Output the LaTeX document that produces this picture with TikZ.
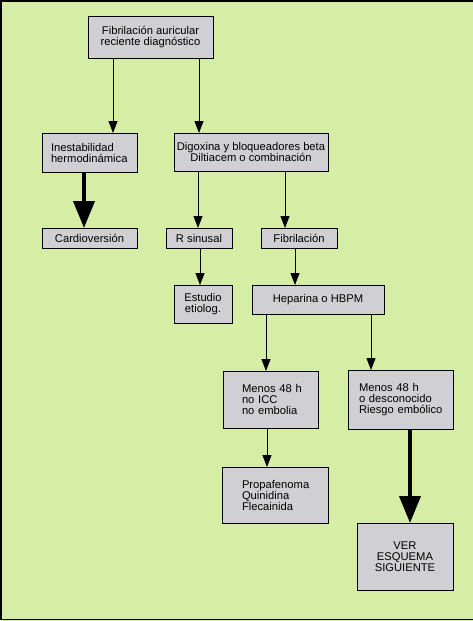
\documentclass[tikz,border=0pt]{standalone}
\usepackage{fontspec}
\setmainfont{Liberation Sans}
\usetikzlibrary{arrows.meta}
\definecolor{bggreen}{RGB}{214,237,166}
\definecolor{boxgray}{RGB}{208,208,212}
\begin{document}
\begin{tikzpicture}[x=1pt,y=-1pt,
  box/.style={draw=black, fill=boxgray, line width=0.9pt, anchor=north west,
    inner ysep=0pt, inner xsep=2pt, outer sep=0pt,
    font=\fontsize{11.2}{11}\selectfont, align=center},
  lbox/.style={box, align=left},
  arr/.style={line width=1pt, -{Triangle[width=9pt,length=12pt]}},
  bigarr/.style={line width=3.8pt, -{Triangle[width=21pt,length=27pt]}}]
\useasboundingbox (0,0) rectangle (473,621);
\fill[bggreen] (0,0) rectangle (473,621);
\draw[line width=1.5pt] (473,0.75) -- (0.75,0.75) -- (0.75,619.5) -- (473,619.5);

\node[box, minimum width=125pt, minimum height=42pt] (b1) at (88,16) {Fibrilación auricular\\reciente diagnóstico};
\node[lbox, text width=77pt, inner xsep=9pt, minimum height=39pt] (inst) at (42,133) {\mbox{Inestabilidad}\\\mbox{hermodinámica}};
\node[box, minimum width=154pt, minimum height=38pt] (dig) at (174,133) {Digoxina y bloqueadores beta\\Diltiacem o combinación};
\node[box, minimum width=95pt, minimum height=20pt] (card) at (42,228) {Cardioversión};
\node[box, minimum width=66pt, minimum height=20pt] (rsin) at (166,228) {R sinusal};
\node[box, minimum width=76pt, minimum height=20pt] (fib) at (261,228) {Fibrilación};
\node[box, minimum width=58pt, minimum height=38pt] (est) at (174,285) {Estudio\\etiolog.};
\node[box, minimum width=132pt, minimum height=29pt] (hep) at (252,285) {Heparina o HBPM};
\node[lbox, text width=57pt, inner xsep=19pt, minimum height=57pt] (m1) at (223,371) {\mbox{Menos 48 h}\\\mbox{no ICC}\\\mbox{no embolia}};
\node[lbox, text width=83pt, inner xsep=11pt, minimum height=59pt] (m2) at (348,370) {\mbox{Menos 48 h}\\\mbox{o desconocido}\\\mbox{Riesgo embólico}};
\node[lbox, text width=66pt, inner xsep=20pt, minimum height=56pt] (prop) at (222,467) {\mbox{Propafenoma}\\\mbox{Quinidina}\\\mbox{Flecainida}};
\node[box, minimum width=96pt, minimum height=67pt] (ver) at (357,523) {VER\\ESQUEMA\\SIGUIENTE};

\coordinate (c113) at (113,0);
\coordinate (c199) at (199,0);
\coordinate (c84) at (84,0);
\coordinate (c198) at (198,0);
\coordinate (c285) at (285,0);
\coordinate (c200) at (200,0);
\coordinate (c295) at (295,0);
\coordinate (c266) at (266,0);
\coordinate (c371) at (371,0);
\coordinate (c267) at (267,0);
\coordinate (c410) at (410,0);

\draw[arr] (b1.south -| c113) -- (inst.north -| c113);
\draw[arr] (b1.south -| c199) -- (dig.north -| c199);
\draw[bigarr] (inst.south -| c84) -- (card.north -| c84);
\draw[arr] (dig.south -| c198) -- (rsin.north -| c198);
\draw[arr] (dig.south -| c285) -- (fib.north -| c285);
\draw[arr] (rsin.south -| c200) -- (est.north -| c200);
\draw[arr] (fib.south -| c295) -- (hep.north -| c295);
\draw[arr] (hep.south -| c266) -- (m1.north -| c266);
\draw[arr] (hep.south -| c371) -- (m2.north -| c371);
\draw[arr] (m1.south -| c267) -- (prop.north -| c267);
\draw[bigarr] (m2.south -| c410) -- (ver.north -| c410);
\end{tikzpicture}
\end{document}
